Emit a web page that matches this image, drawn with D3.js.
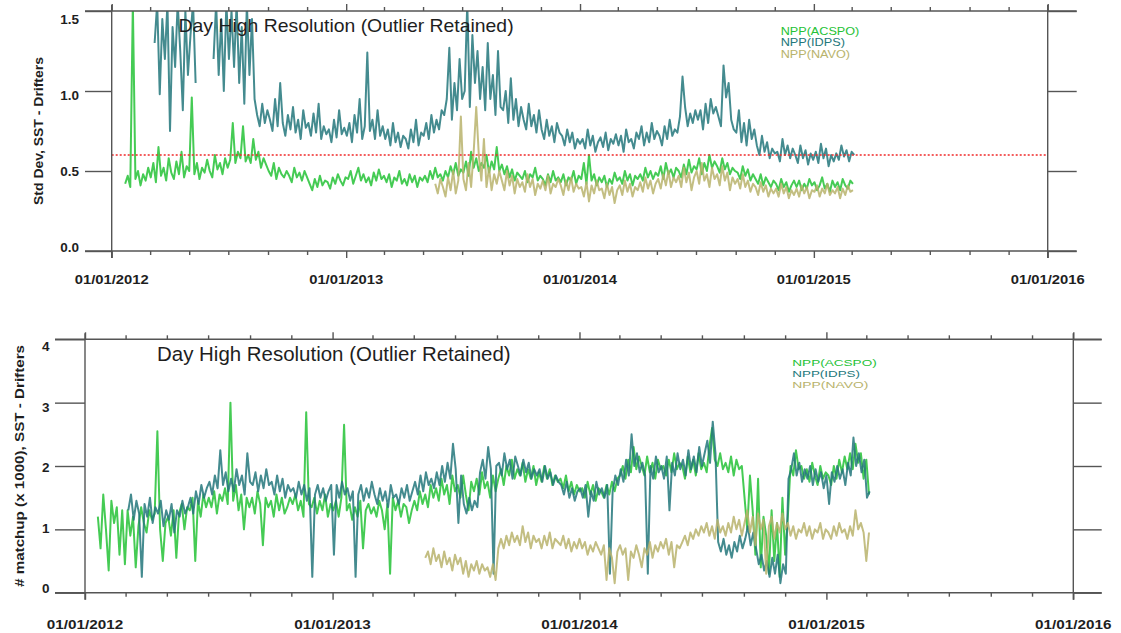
<!DOCTYPE html>
<html><head><meta charset="utf-8">
<script src="https://cdn.jsdelivr.net/npm/d3@7"></script>
<style>
body{margin:0;background:#fff;}
svg{display:block;font-family:"Liberation Sans",Arial,Helvetica,sans-serif;}
</style></head><body>
<svg id="c" width="1121" height="633"></svg>
<script>
// ---------------- DATA ----------------
const STEP_DAYS = 4;                       // spacing of the read-off samples
const seriesNames  = ["NPP(ACSPO)", "NPP(IDPS)", "NPP(NAVO)"];
const seriesColors = ["#25c236", "#23777b", "#b8b36c"];
const xDomain = ["2012-01-01", "2016-01-01"];
const xTickLabels = ["01/01/2012", "01/01/2013", "01/01/2014", "01/01/2015", "01/01/2016"];
const titleText = "Day High Resolution (Outlier Retained)";
const topYTicks = [0.0, 0.5, 1.0, 1.5];
const topYTickLabels = ["0.0", "0.5", "1.0", "1.5"];
const topYTitle = "Std Dev,  SST - Drifters";
const topRefLine = 0.6;
const botYTicks = [0, 1, 2, 3, 4];
const botYTickLabels = ["0", "1", "2", "3", "4"];
const botYTitle = "# matchup (x 1000),  SST - Drifters";

// Top panel: Std Dev of SST - drifters
const topAcspoStart = "2012-01-22";
const topAcspo = [.42,.47,.40,1.55,.45,.50,.41,.48,.44,.52,
 .46,.55,.43,.65,.47,.52,.44,.58,
 .49,.45,.56,.48,.62,.46,.53,.50,
 .96,.48,.55,.45,.52,.49,.57,
 .50,.46,.60,.51,.55,.48,.58,.52,
 .57,.80,.55,.62,.58,.78,.56,
 .60,.55,.70,.57,.62,.52,.58,.54,
 .50,.47,.55,.45,.52,.48,.46,.50,
 .47,.43,.52,.46,.49,.44,.50,.46,
 .42,.38,.45,.40,.47,.41,.44,
 .43,.39,.46,.42,.48,.44,.41,.46,
 .45,.50,.42,.47,.52,.44,.48,.43,
 .46,.41,.49,.44,.51,.45,.47,
 .43,.48,.40,.46,.44,.50,.42,
 .45,.41,.48,.43,.47,.40,.46,.44,
 .47,.43,.50,.45,.52,.46,.48,.44,
 .50,.46,.53,.48,.55,.47,.51,
 .49,.56,.47,.62,.52,.58,.50,.55,
 .52,.60,.49,.56,.51,.65,.50,.54,
 .48,.53,.46,.51,.44,.49,.47,
 .45,.50,.43,.48,.46,.52,.44,.47,
 .45,.41,.48,.43,.50,.44,.46,
 .43,.48,.41,.46,.44,.50,.42,.47,
 .45,.55,.42,.60,.44,.48,.41,.46,
 .43,.47,.40,.45,.42,.49,.44,
 .46,.42,.50,.44,.48,.41,.47,.45,
 .48,.44,.52,.46,.50,.45,.49,
 .47,.53,.45,.55,.48,.51,.46,.52,
 .50,.46,.54,.48,.57,.49,.53,
 .51,.58,.48,.55,.50,.60,.52,.56,
 .53,.49,.58,.51,.55,.48,.52,.50,
 .49,.45,.53,.47,.51,.44,.48,
 .45,.42,.48,.41,.46,.43,.40,.44,
 .42,.38,.45,.40,.43,.37,.41,.44,
 .40,.44,.38,.42,.39,.45,.41,
 .43,.38,.41,.46,.39,.42,.37,.44,
 .40,.43,.38,.45,.41,.39,.44,.42];

const topIdpsStart = "2012-03-08";
const topIdps = [1.30,1.55,0.98,1.45,1.20,1.55,
 0.75,1.40,1.15,1.55,1.25,0.88,1.50,1.10,
 1.35,1.55,1.05,null,null,1.03,null,null,
 null,1.20,1.55,1.10,1.45,1.00,1.55,1.20,
 1.50,1.15,1.55,1.05,1.40,0.92,1.55,1.10,1.45,
 0.95,.85,.78,.92,.80,.88,
 .82,.75,.95,.78,1.05,.80,.72,
 .85,.76,.90,.74,.82,.70,.88,.77,
 .80,.72,.86,.74,.92,.70,.78,.73,
 .76,.68,.82,.71,.88,.73,.77,
 .72,.80,.68,.85,.74,.95,.70,.78,
 1.24,.75,.82,.70,.88,.72,.78,
 .70,.76,.66,.80,.68,.74,.65,.72,
 .70,.64,.76,.68,.82,.66,.74,
 .72,.80,.70,.85,.74,.82,.76,.88,
 .85,.95,1.27,.82,1.05,.88,1.20,.95,
 1.00,1.55,.90,1.35,1.05,1.25,.95,
 1.15,.88,1.30,.95,1.10,.85,1.25,.90,
 .88,1.00,.80,1.08,.82,.95,.78,.90,
 .82,.76,.92,.78,.85,.74,.88,
 .76,.70,.82,.72,.78,.68,.80,.74,
 .72,.66,.76,.68,.74,.64,.70,.67,
 .70,.64,.76,.66,.72,.62,.68,
 .71,.65,.74,.63,.70,.67,.73,
 .66,.72,.62,.76,.68,.70,.64,.74,
 .70,.78,.66,.74,.68,.80,.70,.75,
 .72,.66,.78,.70,.82,.72,.76,
 .74,.84,1.09,.90,.78,.86,.80,.88,
 .82,.88,.76,.92,.80,.95,.86,.90,
 .84,.78,1.16,.96,1.05,.82,.76,
 .74,.88,.68,.80,.66,.82,.70,.76,
 .66,.60,.72,.62,.68,.58,.64,.61,
 .62,.56,.70,.60,.66,.58,.64,
 .60,.55,.66,.58,.63,.54,.61,.57,
 .62,.55,.67,.58,.64,.53,.60,.56,
 .61,.57,.66,.59,.63,.56,.62,.60];

const topNavoStart = "2013-05-20";
const topNavo = [.42,.36,.45,
 .40,.34,.46,.38,.50,.36,.44,.84,
 .45,.38,.55,.40,.62,.90,.60,.44,
 .70,.40,.52,.38,.48,.42,.50,
 .44,.38,.50,.41,.47,.36,.45,.40,
 .43,.37,.48,.40,.45,.35,.42,.39,
 .44,.38,.47,.36,.42,.40,.45,
 .41,.35,.44,.38,.46,.37,.42,.39,
 .40,.34,.43,.31,.41,.36,.44,.38,
 .39,.33,.42,.35,.40,.30,.38,
 .41,.35,.44,.37,.42,.34,.40,.38,
 .43,.37,.46,.39,.44,.36,.42,
 .45,.39,.48,.41,.50,.40,.46,.43,
 .47,.40,.52,.43,.49,.38,.46,
 .50,.42,.55,.44,.48,.40,.52,.45,
 .48,.41,.53,.44,.49,.38,.46,.42,
 .45,.39,.48,.40,.44,.37,.42,
 .40,.35,.43,.37,.41,.34,.39,.36,
 .39,.34,.42,.36,.40,.33,.38,.35,
 .39,.34,.41,.36,.40,.33,.38,
 .37,.41,.34,.39,.36,.42,.35,.38,
 .36,.40,.33,.39,.35,.41,.37,.38];

// Bottom panel: number of matchups (x 1000)
const botAcspoStart = "2012-01-20";
const botAcspo = [1.2,0.7,1.55,
 1.0,0.35,1.45,1.1,1.35,0.6,1.3,
 0.45,1.3,0.9,1.2,0.4,1.05,1.35,1.1,
 0.95,1.3,1.15,1.25,2.55,1.0,0.5,1.1,
 1.2,0.9,1.3,0.55,1.25,1.4,1.0,1.35,
 1.3,1.5,0.5,1.45,1.2,1.55,1.35,
 1.5,1.35,1.6,1.25,1.55,1.45,1.65,1.4,
 3.0,1.45,1.7,1.3,1.55,1.0,1.5,1.35,
 1.5,1.25,1.6,1.4,0.75,1.5,1.35,
 1.45,1.2,1.55,1.3,1.5,1.25,1.35,1.5,
 1.4,1.55,1.3,1.45,1.2,2.85,1.4,
 1.35,1.5,1.25,1.45,1.3,1.55,1.2,1.4,
 1.3,1.45,1.2,1.5,2.65,1.3,1.4,1.15,
 1.35,1.2,1.45,0.7,1.3,1.4,1.25,
 1.35,1.2,1.45,1.3,1.0,1.4,0.3,1.5,
 1.3,1.45,1.2,1.4,1.35,1.1,1.3,
 1.45,1.3,1.6,1.4,1.55,1.35,1.7,1.5,
 1.65,1.45,1.8,1.55,1.7,1.4,1.85,1.6,
 1.7,1.5,1.85,1.55,1.3,1.75,1.6,
 1.8,1.55,1.9,1.65,1.75,1.5,1.85,1.6,
 1.8,1.95,1.7,2.0,1.85,2.1,1.8,1.95,
 1.85,2.05,1.75,1.95,1.8,2.0,1.7,
 1.9,1.75,2.0,1.8,1.95,1.7,1.85,1.75,
 1.8,1.65,1.85,1.6,1.75,1.55,1.7,1.6,
 1.65,1.5,1.75,1.55,1.7,1.45,1.65,
 1.6,1.5,1.7,1.55,1.75,1.6,1.8,
 1.85,2.0,1.8,2.1,1.9,2.3,1.95,2.15,
 2.0,1.85,2.15,1.9,2.05,1.8,2.1,1.95,
 2.0,1.85,2.1,1.9,2.2,1.95,2.05,
 2.0,1.8,2.15,1.9,2.1,1.85,2.2,1.95,
 2.05,1.9,2.3,2.6,2.1,2.0,2.2,1.95,
 2.05,1.9,2.15,1.85,2.1,1.95,2.0,
 1.5,1.0,1.85,1.3,0.6,1.8,0.4,1.2,
 0.9,0.3,1.3,0.5,1.1,0.25,1.5,0.6,
 1.2,2.0,1.85,2.25,1.95,2.0,1.8,
 1.95,1.75,2.05,1.85,1.7,2.0,1.8,1.9,
 1.85,1.7,2.0,1.8,2.1,1.9,2.15,1.95,
 2.2,1.95,2.35,2.05,2.2,1.8,2.1,1.55];

const botIdpsStart = "2012-03-05";
const botIdps = [1.3,1.55,1.15,1.45,1.25,0.25,1.4,
 1.2,1.5,1.1,1.35,1.25,1.45,1.05,1.3,
 1.15,1.4,0.95,1.3,1.2,1.45,1.25,
 1.35,1.5,1.25,1.6,1.4,1.7,1.5,1.65,
 1.75,1.55,1.85,1.65,2.25,1.7,1.9,1.6,
 1.8,1.6,1.95,1.7,1.85,1.55,2.2,1.75,
 1.7,1.9,1.6,1.85,1.65,1.95,1.7,
 1.75,1.55,1.85,1.6,1.8,1.5,1.7,1.6,
 1.65,1.5,1.75,1.55,1.7,1.45,1.65,
 0.25,1.55,1.7,1.5,1.65,1.45,1.6,1.7,
 0.6,1.7,1.5,1.75,1.55,1.65,1.45,1.6,
 0.25,1.55,1.7,1.45,1.65,1.5,1.75,
 1.55,1.4,1.65,1.45,1.6,1.35,1.7,1.5,
 1.55,1.4,1.65,1.5,1.7,1.45,1.6,
 1.75,1.55,1.85,1.6,1.9,1.7,1.8,1.65,
 1.9,1.7,2.0,1.75,2.05,1.8,2.35,1.95,
 1.1,1.85,1.4,1.25,1.5,1.3,1.45,
 1.35,1.9,2.1,1.8,2.3,1.95,0.3,2.0,
 2.05,1.85,2.2,1.95,2.1,1.8,2.15,
 2.0,1.85,2.1,1.9,2.05,1.8,1.95,1.85,
 1.95,1.75,2.0,1.8,1.9,1.7,1.85,1.75,
 1.7,1.55,1.75,1.5,1.65,1.45,1.6,
 1.65,1.5,1.7,1.2,1.6,1.45,1.75,1.55,
 1.65,1.5,1.7,0.3,1.6,1.85,1.7,
 1.95,1.75,2.1,1.85,2.5,2.0,2.2,1.9,
 2.05,1.85,0.3,2.0,1.8,2.15,1.9,
 2.0,1.8,2.15,1.3,2.05,1.85,2.2,1.95,
 2.1,1.85,2.25,1.95,2.15,1.9,2.3,2.0,
 2.2,2.4,2.05,2.7,2.2,0.8,0.65,0.85,
 0.6,0.75,0.55,0.8,0.65,0.9,0.7,
 0.85,1.05,0.75,0.95,0.7,0.45,0.6,0.35,
 0.5,0.25,0.55,0.3,0.6,0.15,0.45,0.3,
 1.8,1.95,2.2,1.85,2.05,1.75,1.95,
 1.8,2.0,1.7,1.95,1.75,1.9,1.65,1.85,
 1.4,1.9,1.75,2.0,1.8,1.95,1.7,
 2.05,1.85,2.45,2.0,2.2,1.9,2.1,1.5,1.6];

const botNavoStart = "2013-05-18";
const botNavo = [0.55,0.65,0.45,0.7,
 0.5,0.6,0.4,0.65,0.45,0.55,0.35,0.6,
 0.45,0.55,0.3,0.5,0.25,0.45,0.35,
 0.5,0.3,0.45,0.35,0.4,0.25,0.45,0.2,
 0.7,0.85,0.7,0.9,0.75,0.95,0.8,0.9,
 0.75,1.05,0.8,0.95,0.7,0.9,0.8,
 0.85,0.7,0.9,0.75,0.95,0.7,0.85,0.8,
 0.75,0.9,0.7,0.85,0.65,0.8,0.7,0.85,
 0.7,0.8,0.6,0.75,0.65,0.8,0.7,
 0.6,0.75,0.2,0.7,0.55,0.15,0.65,0.75,
 0.6,0.7,0.2,0.65,0.55,0.75,0.6,
 0.4,0.7,0.6,0.8,0.55,0.75,0.65,0.8,
 0.7,0.85,0.6,0.8,0.4,0.75,0.7,
 0.8,0.9,0.75,0.95,0.85,1.0,0.9,1.05,
 0.95,1.1,0.9,1.05,0.85,1.15,0.95,1.05,
 0.9,1.1,0.95,1.2,1.0,1.15,0.9,
 1.1,1.3,0.95,1.2,0.75,1.25,1.0,1.15,
 0.3,1.05,1.2,0.85,1.1,0.95,1.25,1.0,
 1.1,0.9,1.05,0.85,1.0,0.95,1.1,
 0.9,1.05,0.85,1.0,0.95,1.1,0.85,1.0,
 0.95,0.85,1.05,0.9,1.1,0.95,1.0,0.85,
 1.05,0.9,1.3,1.0,1.1,0.95,0.5,0.95];

// ---------------- DRAWING ----------------
const svg = d3.select("#c");
const parse = d3.utcParse("%Y-%m-%d");
const toPoints = (start, arr) => arr.map((v, i) => ({d: d3.utcDay.offset(parse(start), i * STEP_DAYS), v}));
const axisColor = "#555";
const textColor = "#1e1e1e";

function drawPanel(cfg) {
  const g = svg.append("g");
  const x = d3.scaleUtc().domain(xDomain.map(parse)).range(cfg.xr);
  const y = d3.scaleLinear().domain(cfg.yDomain).range(cfg.yr);
  const yLab = d3.scaleLinear().domain(cfg.yDomain).range(cfg.yLabRange);
  const [x0, x1] = cfg.xr, [yb, yt] = cfg.yr;

  const clipId = "clip" + cfg.id;
  svg.append("clipPath").attr("id", clipId).append("rect")
    .attr("x", x0).attr("y", yt).attr("width", x1 - x0).attr("height", yb - yt);

  const line = d3.line().defined(p => p.v != null).x(p => x(p.d)).y(p => y(p.v));
  const dg = g.append("g").attr("clip-path", `url(#${clipId})`);
  cfg.series.forEach((s, i) => {
    dg.append("path").datum(toPoints(s.start, s.values))
      .attr("d", line).attr("fill", "none")
      .attr("stroke", seriesColors[i]).attr("stroke-width", 2)
      .attr("stroke-opacity", 0.85).attr("stroke-linejoin", "round");
  });

  if (cfg.ref != null) {
    g.append("line").attr("x1", x0).attr("x2", x1)
      .attr("y1", y(cfg.ref)).attr("y2", y(cfg.ref))
      .attr("stroke", "#f02828").attr("stroke-width", 1.4)
      .attr("stroke-dasharray", "2,2");
  }

  // frame
  const fr = g.append("g").attr("stroke", axisColor).attr("stroke-width", 1.4);
  [yb, yt].forEach(yy => fr.append("line").attr("x1", x0 - cfg.extL).attr("x2", x1 + cfg.extR).attr("y1", yy).attr("y2", yy));

  // x ticks (major + minor) on both horizontal lines
  const majors = d3.utcYear.range(parse(xDomain[0]), d3.utcDay.offset(parse(xDomain[1]), 1));
  const minors = d3.utcMonth.every(2).range(parse(xDomain[0]), parse(xDomain[1])).filter(d => d.getUTCMonth() !== 0);
  const styleAxis = sel => { sel.select(".domain").remove(); sel.selectAll("line").attr("stroke", axisColor).attr("stroke-width", 1.4); };
  g.append("g").attr("transform", `translate(0,${yb})`).call(d3.axisBottom(x).tickValues(majors).tickSize(7).tickFormat("")).call(styleAxis);
  g.append("g").attr("transform", `translate(0,${yb})`).call(d3.axisBottom(x).tickValues(minors).tickSize(4).tickFormat("")).call(styleAxis);
  g.append("g").attr("transform", `translate(0,${yt})`).call(d3.axisTop(x).tickValues(majors).tickSize(7).tickFormat("")).call(styleAxis);
  g.append("g").attr("transform", `translate(0,${yt})`).call(d3.axisTop(x).tickValues(minors).tickSize(4).tickFormat("")).call(styleAxis);
  // vertical axes
  [x0, x1].forEach(xx => fr.append("line").attr("x1", xx).attr("x2", xx).attr("y1", yt - 6).attr("y2", yb + 7));
  // y ticks outward
  g.append("g").attr("transform", `translate(${x0},0)`).call(d3.axisLeft(y).tickValues(cfg.yTicks).tickSize(cfg.extL).tickFormat("")).call(styleAxis);
  g.append("g").attr("transform", `translate(${x1},0)`).call(d3.axisRight(y).tickValues(cfg.yTicks).tickSize(cfg.extR).tickFormat("")).call(styleAxis);

  // labels
  const tx = g.append("g").attr("fill", textColor);
  majors.forEach((d, i) => {
    tx.append("text").attr("x", x(d)).attr("y", cfg.xLabY).attr("text-anchor", "middle")
      .attr("font-weight", "bold").attr("font-size", 13.5)
      .attr("textLength", cfg.xLabW).attr("lengthAdjust", "spacingAndGlyphs")
      .text(xTickLabels[i]);
  });
  cfg.yTicks.forEach((v, i) => {
    tx.append("text").attr("x", cfg.yLabX).attr("y", yLab(v)).attr("text-anchor", "end")
      .attr("font-weight", "bold").attr("font-size", 13.5).text(cfg.yTickLabels[i]);
  });
  tx.append("text").attr("transform", `translate(${cfg.yTitleX},${cfg.yTitleY}) rotate(-90)`)
    .attr("text-anchor", "middle").attr("font-weight", "bold").attr("font-size", 13.5)
    .attr("textLength", cfg.yTitleW).attr("lengthAdjust", "spacingAndGlyphs").text(cfg.yTitle);
  tx.append("text").attr("x", cfg.titleX).attr("y", cfg.titleY).attr("font-size", cfg.titleSize)
    .attr("textLength", cfg.titleW).attr("lengthAdjust", "spacingAndGlyphs").text(titleText);

  seriesNames.forEach((n, i) => {
    g.append("text").attr("x", cfg.legX).attr("y", cfg.legY + i * cfg.legDy)
      .attr("font-size", cfg.legSize).attr("fill", seriesColors[i])
      .attr("textLength", cfg.legW[i]).attr("lengthAdjust", "spacingAndGlyphs").text(n);
  });
}

drawPanel({
  id: "top", xr: [111.7, 1047.7], yr: [251, 11], yDomain: [0, 1.5], yLabRange: [252, 24],
  extL: 26.7, extR: 29, yTicks: topYTicks, yTickLabels: topYTickLabels,
  xLabY: 284, xLabW: 74, yLabX: 79,
  yTitle: topYTitle, yTitleX: 43, yTitleY: 131, yTitleW: 148,
  titleX: 178.6, titleY: 31.7, titleSize: 19, titleW: 335,
  legX: 780.7, legY: 34.5, legDy: 11.8, legSize: 10.2, legW: [78.6, 64.3, 69.3], ref: topRefLine,
  series: [
    {start: topAcspoStart, values: topAcspo},
    {start: topIdpsStart, values: topIdps},
    {start: topNavoStart, values: topNavo}]
});

drawPanel({
  id: "bot", xr: [85, 1073.3], yr: [592.7, 339.3], yDomain: [0, 4], yLabRange: [593, 351],
  extL: 30, extR: 28.4, yTicks: botYTicks, yTickLabels: botYTickLabels,
  xLabY: 628.5, xLabW: 76.5, yLabX: 49.5,
  yTitle: botYTitle, yTitleX: 23.5, yTitleY: 466, yTitleW: 242,
  titleX: 157, titleY: 360.7, titleSize: 20.5, titleW: 353.6,
  legX: 792.3, legY: 365.5, legDy: 11.3, legSize: 9.8, legW: [84.4, 67.7, 76], ref: null,
  series: [
    {start: botAcspoStart, values: botAcspo},
    {start: botIdpsStart, values: botIdps},
    {start: botNavoStart, values: botNavo}]
});
</script>
</body></html>
